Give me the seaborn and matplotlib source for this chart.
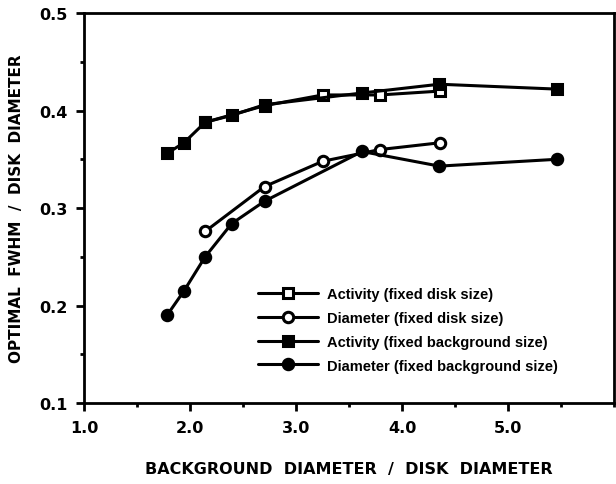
import matplotlib
matplotlib.use("Agg")
import matplotlib.pyplot as plt
from matplotlib.ticker import MultipleLocator, FixedLocator
import seaborn as sns
import pandas as pd

# Data (x in axis units)
x_fixed_disk = [2.14, 2.70, 3.25, 3.79, 4.36]
activity_fixed_disk = [0.388, 0.405, 0.416, 0.416, 0.420]
diameter_fixed_disk = [0.276, 0.322, 0.348, 0.360, 0.367]

x_fixed_bg = [1.78, 1.94, 2.14, 2.39, 2.70, 3.62, 4.35, 5.46]
activity_fixed_bg = [0.356, 0.367, 0.388, 0.395, 0.406, 0.418, 0.427, 0.422]
diameter_fixed_bg = [0.190, 0.215, 0.250, 0.284, 0.307, 0.358, 0.343, 0.350]

labels = ["Activity (fixed disk size)", "Diameter (fixed disk size)",
          "Activity (fixed background size)", "Diameter (fixed background size)"]
x_ticks = [1.0, 2.0, 3.0, 4.0, 5.0]
y_ticks = [0.1, 0.2, 0.3, 0.4, 0.5]

sns.set_theme(style="ticks")
plt.rcParams["font.family"] = ["Liberation Sans", "DejaVu Sans"]
plt.rcParams["text.color"] = "black"
plt.rcParams["axes.labelcolor"] = "black"
plt.rcParams["xtick.color"] = "black"
plt.rcParams["ytick.color"] = "black"

fig = plt.figure(figsize=(6.16, 4.85), dpi=100)
ax = fig.add_axes([0.137, 0.167, 0.860, 0.804])

series = [
    (x_fixed_disk, activity_fixed_disk, labels[0], "s", "white"),
    (x_fixed_disk, diameter_fixed_disk, labels[1], "o", "white"),
    (x_fixed_bg, activity_fixed_bg, labels[2], "s", "black"),
    (x_fixed_bg, diameter_fixed_bg, labels[3], "o", "black"),
]
for xs, ys, lab, mk, fc in series:
    df = pd.DataFrame({"x": xs, "y": ys})
    sns.lineplot(data=df, x="x", y="y", ax=ax, color="black", linewidth=2.2,
                 marker=mk, markersize=7.5,
                 markerfacecolor=fc, markeredgecolor="black", markeredgewidth=2.2,
                 sort=False, label=lab, estimator=None)

ax.set_xlim(1.0, 6.0)
ax.set_ylim(0.1, 0.5)
ax.xaxis.set_major_locator(FixedLocator(x_ticks))
ax.yaxis.set_major_locator(FixedLocator(y_ticks))
ax.xaxis.set_minor_locator(MultipleLocator(0.5))
ax.yaxis.set_minor_locator(MultipleLocator(0.05))
tick_font = {"family": "DejaVu Sans", "weight": "bold", "size": 11.5}
ax.set_xticklabels([f"{v:.1f}" for v in x_ticks], fontdict=tick_font)
ax.set_yticklabels([f"{v:.1f}" for v in y_ticks], fontdict=tick_font)
ax.tick_params(axis="both", which="major", direction="out", length=6, width=2,
               color="black", labelcolor="black", pad=6)
ax.tick_params(axis="both", which="minor", direction="out", length=3, width=2, color="black")

for s in ax.spines.values():
    s.set_visible(True)
    s.set_linewidth(2)
    s.set_color("black")

ax.set_xlabel("BACKGROUND  DIAMETER  /  DISK  DIAMETER",
              fontdict={"family": "DejaVu Sans", "weight": "bold", "size": 11.5}, labelpad=19)
ax.set_ylabel("OPTIMAL  FWHM  /  DISK  DIAMETER",
              fontdict={"family": "DejaVu Sans", "weight": "bold", "size": 11}, labelpad=11)

leg = ax.legend(loc="upper left", bbox_to_anchor=(0.328, 0.298), frameon=False,
                prop={"family": "Liberation Sans", "weight": "bold", "size": 10.5},
                handlelength=4.1, handletextpad=0.6, labelspacing=0.68,
                borderpad=0, borderaxespad=0)
for t in leg.get_texts():
    t.set_color("black")

fig.savefig("out.png", dpi=100)
